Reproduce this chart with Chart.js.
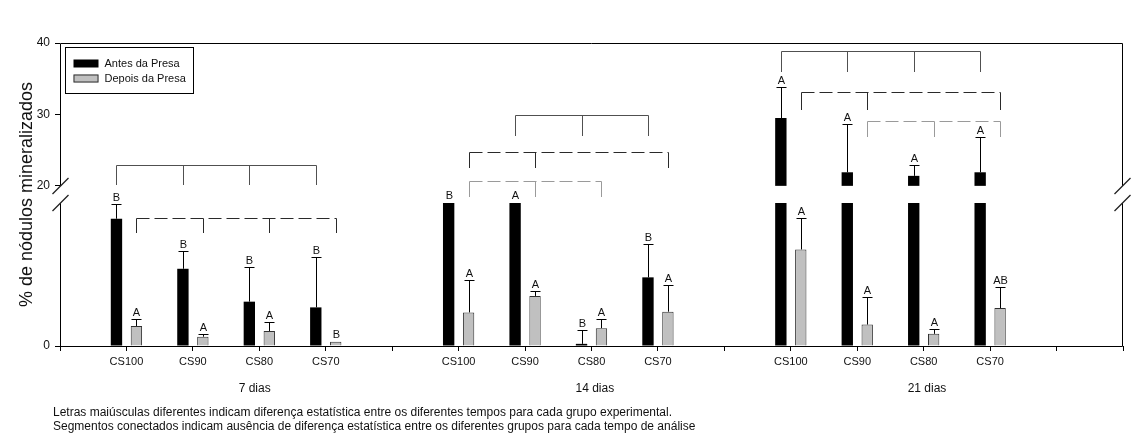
<!DOCTYPE html>
<html>
<head>
<meta charset="utf-8">
<script src="https://cdn.jsdelivr.net/npm/chart.js@4.4.1/dist/chart.umd.min.js"></script>
<style>
  html, body { margin: 0; padding: 0; background: #fff; }
  #wrap { width: 1135px; height: 436px; position: relative; }
</style>
</head>
<body>
<div id="wrap"><canvas id="main-chart"></canvas></div>
<script>
// ---- data ----
const GROUPS     = ['7 dias', '14 dias', '21 dias'];
const TREATMENTS = ['CS100', 'CS90', 'CS80', 'CS70'];
const SERIES     = ['Antes da Presa', 'Depois da Presa'];

const ANTES_7       = [8.9, 5.4, 3.1, 2.7];
const ANTES_ERR_7   = [1.05, 1.25, 2.4, 3.5];
const DEPOIS_7      = [1.4, 0.65, 1.05, 0.3];
const DEPOIS_ERR_7  = [0.5, 0.2, 0.6, 0];

const ANTES_14      = [12, 12, 0.15, 4.8];   // CS100 / CS90 run past the lower segment
const ANTES_ERR_14  = [0, 0, 1.0, 2.35];
const DEPOIS_14     = [2.35, 3.5, 1.25, 2.4];
const DEPOIS_ERR_14 = [2.25, 0.35, 0.65, 1.85];

const ANTES_21      = [29.5, 21.9, 21.4, 21.9];
const ANTES_ERR_21  = [4.3, 6.7, 1.5, 4.9];
const DEPOIS_21     = [6.75, 1.5, 0.85, 2.65];
const DEPOIS_ERR_21 = [2.2, 1.95, 0.35, 1.5];

const LETTERS_ANTES  = [['B','B','B','B'], ['B','A','B','B'], ['A','A','A','A']];
const LETTERS_DEPOIS = [['A','A','A','B'], ['A','A','A','A'], ['A','A','A','AB']];

// broken value axis: 0..LOW_MAX below the break, BREAK_TOP..40 above
const LOW_MAX   = 10;
const BREAK_TOP = 20;
const HIGH_MAX  = 40;
const Y_TICKS_HIGH = [20, 30, 40];
const Y_TICKS_LOW  = [0];

// groups joined by a bracket (no difference) - levels in value units of the given axis
const BRACKETS = [
  { group: 0, series: 0, members: [0,1,2,3], axis: 'yHigh', top: 22.85, bottom: 20.1,  dashed: false, tone: 'mid' },
  { group: 0, series: 1, members: [0,1,2,3], axis: 'yLow',  top: 8.95,  bottom: 7.9,   dashed: true,  tone: 'dark' },
  { group: 1, series: 0, members: [1,2,3],   axis: 'yHigh', top: 29.85, bottom: 27.05, dashed: false, tone: 'mid' },
  { group: 1, series: 1, members: [0,1,3],   axis: 'yHigh', top: 24.7,  bottom: 22.5,  dashed: true,  tone: 'dark' },
  { group: 1, series: 1, members: [0,1,2],   axis: 'yHigh', top: 20.7,  bottom: 18.4,  dashed: true,  tone: 'light' },
  { group: 2, series: 0, members: [0,1,2,3], axis: 'yHigh', top: 38.9,  bottom: 36.0,  dashed: false, tone: 'mid' },
  { group: 2, series: 1, members: [0,1,3],   axis: 'yHigh', top: 33.1,  bottom: 30.65, dashed: true,  tone: 'dark' },
  { group: 2, series: 1, members: [1,2,3],   axis: 'yHigh', top: 29.1,  bottom: 26.8,  dashed: true,  tone: 'light' },
];

const GROUP_LABEL_POS = [2.93, 8.05, 13.05];
const NOTES = [
  'Letras maiúsculas diferentes indicam diferença estatística entre os diferentes tempos para cada grupo experimental.',
  'Segmentos conectados indicam ausência de diferença estatística entre os diferentes grupos para cada tempo de análise'
];
const Y_TITLE = '% de nódulos mineralizados';

// ---- slots on the category axis: empty slot 0, 4 bars, empty slot, ... ----
const SLOT_COUNT = 17;
const slotOf = (g, t) => 1 + g * 5 + t;
const labels = Array(SLOT_COUNT).fill('');
GROUPS.forEach((g, gi) => TREATMENTS.forEach((t, ti) => { labels[slotOf(gi, ti)] = t; }));

function toSlots(perGroup, fn) {
  const out = Array(SLOT_COUNT).fill(null);
  perGroup.forEach((arr, gi) => arr.forEach((v, ti) => { out[slotOf(gi, ti)] = fn ? fn(v) : v; }));
  return out;
}
const antes      = [ANTES_7, ANTES_14, ANTES_21];
const antesErr   = [ANTES_ERR_7, ANTES_ERR_14, ANTES_ERR_21];
const depois     = [DEPOIS_7, DEPOIS_14, DEPOIS_21];
const depoisErr  = [DEPOIS_ERR_7, DEPOIS_ERR_14, DEPOIS_ERR_21];

const FONT = "Arial, 'Liberation Sans', sans-serif";
const GRAY = '#c0c0c0';
const TONES = { dark: '#2a2a2a', mid: '#505050', light: '#9a9a9a' };

// error bars + letters
const errorBars = {
  id: 'errorBars',
  afterDatasetsDraw(chart) {
    const ctx = chart.ctx;
    const yLow = chart.scales.yLow, yHigh = chart.scales.yHigh;
    const sets = [
      { meta: chart.getDatasetMeta(0), vals: antes,  errs: antesErr,  letters: LETTERS_ANTES },
      { meta: chart.getDatasetMeta(1), vals: depois, errs: depoisErr, letters: LETTERS_DEPOIS },
    ];
    ctx.save();
    ctx.strokeStyle = '#000'; ctx.lineWidth = 1;
    ctx.fillStyle = '#111';
    ctx.font = '11px ' + FONT;
    ctx.textAlign = 'center'; ctx.textBaseline = 'alphabetic';
    sets.forEach(s => {
      s.vals.forEach((arr, gi) => arr.forEach((v, ti) => {
        const e = s.errs[gi][ti];
        const x = Math.round(s.meta.data[slotOf(gi, ti)].x) + 0.5;
        let top, errTop = null;
        if (v > BREAK_TOP) { top = yHigh.getPixelForValue(v); errTop = yHigh.getPixelForValue(v + e); }
        else if (v > LOW_MAX) { top = yLow.getPixelForValue(LOW_MAX); }
        else { top = yLow.getPixelForValue(v); errTop = yLow.getPixelForValue(v + e); }
        let labelY = top;
        if (errTop !== null && e > 0) {
          const ey = Math.round(errTop) + 0.5;
          ctx.beginPath();
          ctx.moveTo(x, top); ctx.lineTo(x, ey);
          ctx.moveTo(x - 5, ey); ctx.lineTo(x + 5, ey);
          ctx.stroke();
          labelY = ey;
        }
        ctx.fillText(s.letters[gi][ti], x, labelY - 4);
      }));
    });
    ctx.restore();
  }
};

// brackets, frame with axis break, legend, titles, notes
const decorations = {
  id: 'decorations',
  afterDraw(chart) {
    const ctx = chart.ctx;
    const { left, right } = chart.chartArea;
    const yLow = chart.scales.yLow, yHigh = chart.scales.yHigh, xs = chart.scales.x;
    ctx.save();

    // brackets
    BRACKETS.forEach(b => {
      const meta = chart.getDatasetMeta(b.series);
      const sc = chart.scales[b.axis];
      const px = b.members.map(t => Math.round(meta.data[slotOf(b.group, t)].x) + 0.5);
      const yt = Math.round(sc.getPixelForValue(b.top)) + 0.5;
      const yb = Math.round(sc.getPixelForValue(b.bottom));
      ctx.strokeStyle = TONES[b.tone]; ctx.lineWidth = 1;
      ctx.setLineDash([]);
      ctx.beginPath();
      px.forEach(x => { ctx.moveTo(x, yt); ctx.lineTo(x, yb); });
      ctx.stroke();
      ctx.setLineDash(b.dashed ? [13, 5] : []);
      ctx.beginPath(); ctx.moveTo(px[0], yt); ctx.lineTo(px[px.length - 1], yt); ctx.stroke();
    });
    ctx.setLineDash([]);

    // frame
    const yTop = Math.round(yHigh.getPixelForValue(HIGH_MAX)) + 0.5;
    const yBrkHi = Math.round(yHigh.getPixelForValue(BREAK_TOP));
    const yBrkLo = Math.round(yLow.getPixelForValue(LOW_MAX));
    const yBot = Math.round(yLow.getPixelForValue(0)) + 0.5;
    const xl = Math.round(left) + 0.5, xr = Math.round(right) - 0.5;
    ctx.strokeStyle = '#000'; ctx.lineWidth = 1;
    ctx.beginPath();
    ctx.moveTo(xl, yTop); ctx.lineTo(xr, yTop);
    ctx.moveTo(xl, yBot); ctx.lineTo(xr, yBot);
    [xl, xr].forEach(x => {
      ctx.moveTo(x, yTop); ctx.lineTo(x, yBrkHi);
      ctx.moveTo(x, yBrkLo); ctx.lineTo(x, yBot);
    });
    ctx.stroke();
    ctx.strokeStyle = '#222'; ctx.lineWidth = 1.3;
    ctx.beginPath();
    [xl, xr].forEach(x => {
      [yBrkHi, yBrkLo].forEach(y => { ctx.moveTo(x - 8, y + 8); ctx.lineTo(x + 8, y - 8); });
    });
    ctx.stroke();

    // legend
    const lx = xl + 5, ly = yTop + 4;
    ctx.lineWidth = 1; ctx.strokeStyle = '#000';
    ctx.strokeRect(lx, ly, 128, 46);
    ctx.fillStyle = '#000'; ctx.fillRect(lx + 8, ly + 12, 25, 8);
    ctx.fillStyle = GRAY; ctx.fillRect(lx + 8, ly + 27, 25, 8);
    ctx.strokeStyle = '#333'; ctx.strokeRect(lx + 8.5, ly + 27.5, 24, 7);
    ctx.fillStyle = '#111'; ctx.font = '11px ' + FONT;
    ctx.textAlign = 'left'; ctx.textBaseline = 'middle';
    ctx.fillText(chart.data.datasets[0].label, lx + 39, ly + 16.5);
    ctx.fillText(chart.data.datasets[1].label, lx + 39, ly + 31.5);

    // group labels + notes
    ctx.font = '12px ' + FONT; ctx.textAlign = 'center';
    GROUPS.forEach((g, gi) => ctx.fillText(g, xs.getPixelForValue(GROUP_LABEL_POS[gi]), xs.top + 43));
    ctx.textAlign = 'left';
    NOTES.forEach((n, i) => ctx.fillText(n, 53, xs.top + 67 + i * 14));

    // y title
    ctx.font = '18px ' + FONT; ctx.textAlign = 'center'; ctx.textBaseline = 'alphabetic';
    ctx.translate(31.5, (chart.chartArea.top + chart.chartArea.bottom) / 2);
    ctx.rotate(-Math.PI / 2);
    ctx.fillText(Y_TITLE, 0, 0);
    ctx.restore();
  }
};

const tickFont = { family: FONT, size: 12 };
const canvas = document.getElementById('main-chart');
const chart = new Chart(canvas, {
  type: 'bar',
  data: {
    labels,
    datasets: [
      {
        label: SERIES[0],
        data: toSlots(antes, v => Math.min(v, LOW_MAX)),
        backgroundColor: '#000',
        yAxisID: 'yLow', stack: 'antes',
      },
      {
        label: SERIES[1],
        data: toSlots(depois),
        backgroundColor: GRAY, borderColor: '#303030', borderWidth: 1,
        yAxisID: 'yLow', stack: 'depois',
      },
      {
        label: SERIES[0] + ' (acima da quebra)',
        data: toSlots(antes, v => v > BREAK_TOP ? [BREAK_TOP, v] : null),
        backgroundColor: '#000',
        yAxisID: 'yHigh', stack: 'antes',
      },
    ]
  },
  options: {
    responsive: true,
    maintainAspectRatio: false,
    animation: false,
    categoryPercentage: 0.6,
    barPercentage: 0.57,
    layout: { padding: { top: 43, right: 12, bottom: 0, left: 0 } },
    plugins: { legend: { display: false }, tooltip: { enabled: false } },
    scales: {
      x: {
        type: 'category',
        offset: false,
        grid: { offset: false, drawOnChartArea: false, tickLength: 5, color: '#000' },
        border: { display: false },
        ticks: { color: '#111', font: { family: FONT, size: 11 }, autoSkip: false, maxRotation: 0, padding: 4 },
        afterFit: s => { s.height = 90; }
      },
      // left boxes are laid out in reverse, so the lower segment is listed first
      yLow: {
        type: 'linear', position: 'left', stack: 'y', stackWeight: 143, stacked: false,
        min: 0, max: LOW_MAX,
        grid: { drawOnChartArea: false, tickLength: 5, color: '#000' },
        border: { display: false },
        ticks: { color: '#111', font: tickFont, padding: 5 },
        afterBuildTicks: s => { s.ticks = Y_TICKS_LOW.map(v => ({ value: v })); },
        afterFit: s => { s.width = 60; }
      },
      yHigh: {
        type: 'linear', position: 'left', stack: 'y', stackWeight: 160, stacked: false,
        min: BREAK_TOP - 2.4, max: HIGH_MAX,
        grid: { drawOnChartArea: false, tickLength: 5, color: '#000' },
        border: { display: false },
        ticks: { color: '#111', font: tickFont, padding: 5 },
        afterBuildTicks: s => { s.ticks = Y_TICKS_HIGH.map(v => ({ value: v })); },
        afterFit: s => { s.width = 60; }
      }
    }
  },
  plugins: [errorBars, decorations]
});
</script>
</body>
</html>
